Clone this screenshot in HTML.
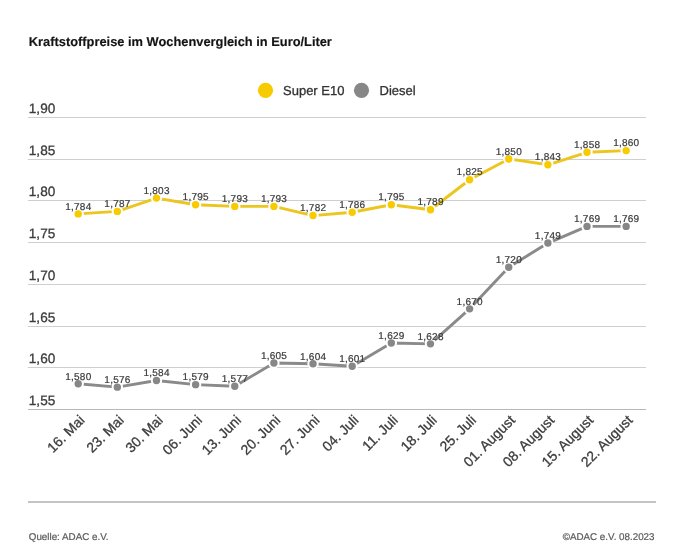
<!DOCTYPE html><html><head><meta charset="utf-8"><style>html,body{margin:0;padding:0;background:#fff;width:681px;height:551px;overflow:hidden}svg{display:block;will-change:transform;text-rendering:geometricPrecision;font-family:"Liberation Sans",sans-serif}</style></head><body>
<svg width="681" height="551" viewBox="0 0 681 551">
<rect width="681" height="551" fill="#fff"/>
<text x="28.8" y="46.2" font-size="12.85" font-weight="bold" fill="#141414" stroke="#141414" stroke-width="0.15">Kraftstoffpreise im Wochenvergleich in Euro/Liter</text>
<circle cx="265.5" cy="90.3" r="7.6" fill="#f8ca00"/>
<text x="283" y="95.2" font-size="13" fill="#333333" stroke="#333333" stroke-width="0.3">Super E10</text>
<circle cx="361.5" cy="90.3" r="7.6" fill="#878787"/>
<text x="379.6" y="95.2" font-size="13" fill="#333333" stroke="#333333" stroke-width="0.3">Diesel</text>
<rect x="28" y="409" width="618" height="1" fill="#b8b8b8"/>
<text x="28.8" y="405.00" font-size="13.6" fill="#3c3c3c" stroke="#3c3c3c" stroke-width="0.3">1,55</text>
<rect x="28" y="367" width="618" height="1" fill="#cfcfcf"/>
<text x="28.8" y="363.00" font-size="13.6" fill="#3c3c3c" stroke="#3c3c3c" stroke-width="0.3">1,60</text>
<rect x="28" y="326" width="618" height="1" fill="#cfcfcf"/>
<text x="28.8" y="322.00" font-size="13.6" fill="#3c3c3c" stroke="#3c3c3c" stroke-width="0.3">1,65</text>
<rect x="28" y="284" width="618" height="1" fill="#cfcfcf"/>
<text x="28.8" y="280.00" font-size="13.6" fill="#3c3c3c" stroke="#3c3c3c" stroke-width="0.3">1,70</text>
<rect x="28" y="242" width="618" height="1" fill="#cfcfcf"/>
<text x="28.8" y="238.00" font-size="13.6" fill="#3c3c3c" stroke="#3c3c3c" stroke-width="0.3">1,75</text>
<rect x="28" y="200" width="618" height="1" fill="#cfcfcf"/>
<text x="28.8" y="196.00" font-size="13.6" fill="#3c3c3c" stroke="#3c3c3c" stroke-width="0.3">1,80</text>
<rect x="28" y="159" width="618" height="1" fill="#cfcfcf"/>
<text x="28.8" y="155.00" font-size="13.6" fill="#3c3c3c" stroke="#3c3c3c" stroke-width="0.3">1,85</text>
<rect x="28" y="117" width="618" height="1" fill="#cfcfcf"/>
<text x="28.8" y="113.00" font-size="13.6" fill="#3c3c3c" stroke="#3c3c3c" stroke-width="0.3">1,90</text>
<polyline points="78.20,213.90 117.34,211.40 156.48,198.08 195.62,204.74 234.76,206.41 273.90,206.41 313.04,215.57 352.18,212.24 391.32,204.74 430.46,209.74 469.60,179.75 508.74,158.93 547.88,164.76 587.02,152.27 626.16,150.60" fill="none" stroke="#ecc61e" stroke-width="2.9" stroke-linejoin="round" stroke-linecap="round"/>
<circle cx="78.20" cy="213.90" r="4.7" fill="#f8ca00" stroke="#fff" stroke-width="2.0"/>
<circle cx="117.34" cy="211.40" r="4.7" fill="#f8ca00" stroke="#fff" stroke-width="2.0"/>
<circle cx="156.48" cy="198.08" r="4.7" fill="#f8ca00" stroke="#fff" stroke-width="2.0"/>
<circle cx="195.62" cy="204.74" r="4.7" fill="#f8ca00" stroke="#fff" stroke-width="2.0"/>
<circle cx="234.76" cy="206.41" r="4.7" fill="#f8ca00" stroke="#fff" stroke-width="2.0"/>
<circle cx="273.90" cy="206.41" r="4.7" fill="#f8ca00" stroke="#fff" stroke-width="2.0"/>
<circle cx="313.04" cy="215.57" r="4.7" fill="#f8ca00" stroke="#fff" stroke-width="2.0"/>
<circle cx="352.18" cy="212.24" r="4.7" fill="#f8ca00" stroke="#fff" stroke-width="2.0"/>
<circle cx="391.32" cy="204.74" r="4.7" fill="#f8ca00" stroke="#fff" stroke-width="2.0"/>
<circle cx="430.46" cy="209.74" r="4.7" fill="#f8ca00" stroke="#fff" stroke-width="2.0"/>
<circle cx="469.60" cy="179.75" r="4.7" fill="#f8ca00" stroke="#fff" stroke-width="2.0"/>
<circle cx="508.74" cy="158.93" r="4.7" fill="#f8ca00" stroke="#fff" stroke-width="2.0"/>
<circle cx="547.88" cy="164.76" r="4.7" fill="#f8ca00" stroke="#fff" stroke-width="2.0"/>
<circle cx="587.02" cy="152.27" r="4.7" fill="#f8ca00" stroke="#fff" stroke-width="2.0"/>
<circle cx="626.16" cy="150.60" r="4.7" fill="#f8ca00" stroke="#fff" stroke-width="2.0"/>
<polyline points="78.20,383.81 117.34,387.14 156.48,380.48 195.62,384.65 234.76,386.31 273.90,362.99 313.04,363.82 352.18,366.32 391.32,343.00 430.46,343.83 469.60,308.85 508.74,267.21 547.88,243.05 587.02,226.39 626.16,226.39" fill="none" stroke="#8a8a8a" stroke-width="2.9" stroke-linejoin="round" stroke-linecap="round"/>
<circle cx="78.20" cy="383.81" r="4.7" fill="#878787" stroke="#fff" stroke-width="2.0"/>
<circle cx="117.34" cy="387.14" r="4.7" fill="#878787" stroke="#fff" stroke-width="2.0"/>
<circle cx="156.48" cy="380.48" r="4.7" fill="#878787" stroke="#fff" stroke-width="2.0"/>
<circle cx="195.62" cy="384.65" r="4.7" fill="#878787" stroke="#fff" stroke-width="2.0"/>
<circle cx="234.76" cy="386.31" r="4.7" fill="#878787" stroke="#fff" stroke-width="2.0"/>
<circle cx="273.90" cy="362.99" r="4.7" fill="#878787" stroke="#fff" stroke-width="2.0"/>
<circle cx="313.04" cy="363.82" r="4.7" fill="#878787" stroke="#fff" stroke-width="2.0"/>
<circle cx="352.18" cy="366.32" r="4.7" fill="#878787" stroke="#fff" stroke-width="2.0"/>
<circle cx="391.32" cy="343.00" r="4.7" fill="#878787" stroke="#fff" stroke-width="2.0"/>
<circle cx="430.46" cy="343.83" r="4.7" fill="#878787" stroke="#fff" stroke-width="2.0"/>
<circle cx="469.60" cy="308.85" r="4.7" fill="#878787" stroke="#fff" stroke-width="2.0"/>
<circle cx="508.74" cy="267.21" r="4.7" fill="#878787" stroke="#fff" stroke-width="2.0"/>
<circle cx="547.88" cy="243.05" r="4.7" fill="#878787" stroke="#fff" stroke-width="2.0"/>
<circle cx="587.02" cy="226.39" r="4.7" fill="#878787" stroke="#fff" stroke-width="2.0"/>
<circle cx="626.16" cy="226.39" r="4.7" fill="#878787" stroke="#fff" stroke-width="2.0"/>
<text x="78.33" y="209.60" font-size="10" letter-spacing="0.25" text-anchor="middle" fill="#3c3c3c" stroke="#3c3c3c" stroke-width="0.22">1,784</text>
<text x="117.47" y="207.10" font-size="10" letter-spacing="0.25" text-anchor="middle" fill="#3c3c3c" stroke="#3c3c3c" stroke-width="0.22">1,787</text>
<text x="156.61" y="193.78" font-size="10" letter-spacing="0.25" text-anchor="middle" fill="#3c3c3c" stroke="#3c3c3c" stroke-width="0.22">1,803</text>
<text x="195.75" y="200.44" font-size="10" letter-spacing="0.25" text-anchor="middle" fill="#3c3c3c" stroke="#3c3c3c" stroke-width="0.22">1,795</text>
<text x="234.88" y="202.11" font-size="10" letter-spacing="0.25" text-anchor="middle" fill="#3c3c3c" stroke="#3c3c3c" stroke-width="0.22">1,793</text>
<text x="274.02" y="202.11" font-size="10" letter-spacing="0.25" text-anchor="middle" fill="#3c3c3c" stroke="#3c3c3c" stroke-width="0.22">1,793</text>
<text x="313.17" y="211.27" font-size="10" letter-spacing="0.25" text-anchor="middle" fill="#3c3c3c" stroke="#3c3c3c" stroke-width="0.22">1,782</text>
<text x="352.31" y="207.94" font-size="10" letter-spacing="0.25" text-anchor="middle" fill="#3c3c3c" stroke="#3c3c3c" stroke-width="0.22">1,786</text>
<text x="391.44" y="200.44" font-size="10" letter-spacing="0.25" text-anchor="middle" fill="#3c3c3c" stroke="#3c3c3c" stroke-width="0.22">1,795</text>
<text x="430.58" y="205.44" font-size="10" letter-spacing="0.25" text-anchor="middle" fill="#3c3c3c" stroke="#3c3c3c" stroke-width="0.22">1,789</text>
<text x="469.72" y="175.45" font-size="10" letter-spacing="0.25" text-anchor="middle" fill="#3c3c3c" stroke="#3c3c3c" stroke-width="0.22">1,825</text>
<text x="508.87" y="154.63" font-size="10" letter-spacing="0.25" text-anchor="middle" fill="#3c3c3c" stroke="#3c3c3c" stroke-width="0.22">1,850</text>
<text x="548.00" y="160.46" font-size="10" letter-spacing="0.25" text-anchor="middle" fill="#3c3c3c" stroke="#3c3c3c" stroke-width="0.22">1,843</text>
<text x="587.14" y="147.97" font-size="10" letter-spacing="0.25" text-anchor="middle" fill="#3c3c3c" stroke="#3c3c3c" stroke-width="0.22">1,858</text>
<text x="626.29" y="146.30" font-size="10" letter-spacing="0.25" text-anchor="middle" fill="#3c3c3c" stroke="#3c3c3c" stroke-width="0.22">1,860</text>
<text x="78.33" y="379.51" font-size="10" letter-spacing="0.25" text-anchor="middle" fill="#3c3c3c" stroke="#3c3c3c" stroke-width="0.22">1,580</text>
<text x="117.47" y="382.84" font-size="10" letter-spacing="0.25" text-anchor="middle" fill="#3c3c3c" stroke="#3c3c3c" stroke-width="0.22">1,576</text>
<text x="156.61" y="376.18" font-size="10" letter-spacing="0.25" text-anchor="middle" fill="#3c3c3c" stroke="#3c3c3c" stroke-width="0.22">1,584</text>
<text x="195.75" y="380.35" font-size="10" letter-spacing="0.25" text-anchor="middle" fill="#3c3c3c" stroke="#3c3c3c" stroke-width="0.22">1,579</text>
<text x="234.88" y="382.01" font-size="10" letter-spacing="0.25" text-anchor="middle" fill="#3c3c3c" stroke="#3c3c3c" stroke-width="0.22">1,577</text>
<text x="274.02" y="358.69" font-size="10" letter-spacing="0.25" text-anchor="middle" fill="#3c3c3c" stroke="#3c3c3c" stroke-width="0.22">1,605</text>
<text x="313.17" y="359.52" font-size="10" letter-spacing="0.25" text-anchor="middle" fill="#3c3c3c" stroke="#3c3c3c" stroke-width="0.22">1,604</text>
<text x="352.31" y="362.02" font-size="10" letter-spacing="0.25" text-anchor="middle" fill="#3c3c3c" stroke="#3c3c3c" stroke-width="0.22">1,601</text>
<text x="391.44" y="338.70" font-size="10" letter-spacing="0.25" text-anchor="middle" fill="#3c3c3c" stroke="#3c3c3c" stroke-width="0.22">1,629</text>
<text x="430.58" y="339.53" font-size="10" letter-spacing="0.25" text-anchor="middle" fill="#3c3c3c" stroke="#3c3c3c" stroke-width="0.22">1,628</text>
<text x="469.72" y="304.55" font-size="10" letter-spacing="0.25" text-anchor="middle" fill="#3c3c3c" stroke="#3c3c3c" stroke-width="0.22">1,670</text>
<text x="508.87" y="262.91" font-size="10" letter-spacing="0.25" text-anchor="middle" fill="#3c3c3c" stroke="#3c3c3c" stroke-width="0.22">1,720</text>
<text x="548.00" y="238.75" font-size="10" letter-spacing="0.25" text-anchor="middle" fill="#3c3c3c" stroke="#3c3c3c" stroke-width="0.22">1,749</text>
<text x="587.14" y="222.09" font-size="10" letter-spacing="0.25" text-anchor="middle" fill="#3c3c3c" stroke="#3c3c3c" stroke-width="0.22">1,769</text>
<text x="626.29" y="222.09" font-size="10" letter-spacing="0.25" text-anchor="middle" fill="#3c3c3c" stroke="#3c3c3c" stroke-width="0.22">1,769</text>
<text transform="translate(85.50,421) rotate(-45)" font-size="14" text-anchor="end" fill="#3c3c3c" stroke="#3c3c3c" stroke-width="0.3">16. Mai</text>
<text transform="translate(124.64,421) rotate(-45)" font-size="14" text-anchor="end" fill="#3c3c3c" stroke="#3c3c3c" stroke-width="0.3">23. Mai</text>
<text transform="translate(163.78,421) rotate(-45)" font-size="14" text-anchor="end" fill="#3c3c3c" stroke="#3c3c3c" stroke-width="0.3">30. Mai</text>
<text transform="translate(202.92,421) rotate(-45)" font-size="14" text-anchor="end" fill="#3c3c3c" stroke="#3c3c3c" stroke-width="0.3">06. Juni</text>
<text transform="translate(242.06,421) rotate(-45)" font-size="14" text-anchor="end" fill="#3c3c3c" stroke="#3c3c3c" stroke-width="0.3">13. Juni</text>
<text transform="translate(281.20,421) rotate(-45)" font-size="14" text-anchor="end" fill="#3c3c3c" stroke="#3c3c3c" stroke-width="0.3">20. Juni</text>
<text transform="translate(320.34,421) rotate(-45)" font-size="14" text-anchor="end" fill="#3c3c3c" stroke="#3c3c3c" stroke-width="0.3">27. Juni</text>
<text transform="translate(359.48,421) rotate(-45)" font-size="14" text-anchor="end" fill="#3c3c3c" stroke="#3c3c3c" stroke-width="0.3">04. Juli</text>
<text transform="translate(398.62,421) rotate(-45)" font-size="14" text-anchor="end" fill="#3c3c3c" stroke="#3c3c3c" stroke-width="0.3">11. Juli</text>
<text transform="translate(437.76,421) rotate(-45)" font-size="14" text-anchor="end" fill="#3c3c3c" stroke="#3c3c3c" stroke-width="0.3">18. Juli</text>
<text transform="translate(476.90,421) rotate(-45)" font-size="14" text-anchor="end" fill="#3c3c3c" stroke="#3c3c3c" stroke-width="0.3">25. Juli</text>
<text transform="translate(516.04,421) rotate(-45)" font-size="14" text-anchor="end" fill="#3c3c3c" stroke="#3c3c3c" stroke-width="0.3">01. August</text>
<text transform="translate(555.18,421) rotate(-45)" font-size="14" text-anchor="end" fill="#3c3c3c" stroke="#3c3c3c" stroke-width="0.3">08. August</text>
<text transform="translate(594.32,421) rotate(-45)" font-size="14" text-anchor="end" fill="#3c3c3c" stroke="#3c3c3c" stroke-width="0.3">15. August</text>
<text transform="translate(633.46,421) rotate(-45)" font-size="14" text-anchor="end" fill="#3c3c3c" stroke="#3c3c3c" stroke-width="0.3">22. August</text>
<rect x="28" y="501.0" width="628" height="2" fill="#c4c4c4"/>
<text x="28.8" y="540.3" font-size="9.8" fill="#5c5c5c" stroke="#5c5c5c" stroke-width="0.22">Quelle: ADAC e.V.</text>
<text x="654.5" y="540.3" font-size="9.8" text-anchor="end" fill="#5c5c5c" stroke="#5c5c5c" stroke-width="0.22">©ADAC e.V. 08.2023</text>
</svg></body></html>
